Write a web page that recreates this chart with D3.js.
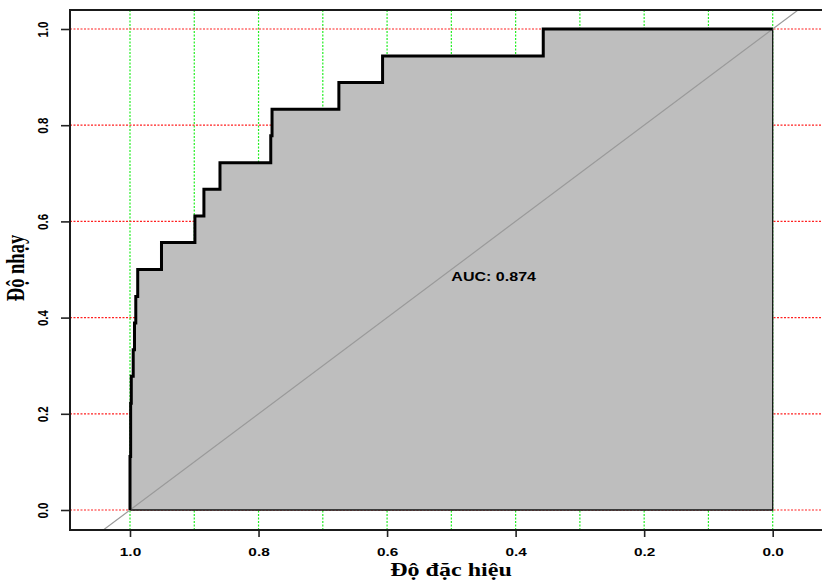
<!DOCTYPE html>
<html>
<head>
<meta charset="utf-8">
<script src="https://cdn.jsdelivr.net/npm/d3@7"></script>
<style>
  body { margin: 0; background: #fff; }
</style>
</head>
<body>
<div id="roc"></div>
<script>
// ROC curve corner points (specificity, sensitivity)
var specificity = [1.000, 1.000, 0.999, 0.999, 0.998, 0.998, 0.995, 0.995, 0.993, 0.993,
                   0.991, 0.991, 0.988, 0.988, 0.951, 0.951, 0.899, 0.899, 0.885, 0.885,
                   0.860, 0.860, 0.781, 0.781, 0.779, 0.779, 0.675, 0.675, 0.607, 0.607,
                   0.357, 0.357, 0.000];
var sensitivity = [0.000, 0.111, 0.111, 0.222, 0.222, 0.278, 0.278, 0.333, 0.333, 0.389,
                   0.389, 0.444, 0.444, 0.500, 0.500, 0.556, 0.556, 0.611, 0.611, 0.667,
                   0.667, 0.722, 0.722, 0.778, 0.778, 0.833, 0.833, 0.889, 0.889, 0.944,
                   0.944, 1.000, 1.000];

var xTicks = [1.0, 0.8, 0.6, 0.4, 0.2, 0.0];
var yTicks = [0.0, 0.2, 0.4, 0.6, 0.8, 1.0];
var xGrid = [1.0, 0.9, 0.8, 0.7, 0.6, 0.5, 0.4, 0.3, 0.2, 0.1, 0.0];
var aucLabel = "AUC: 0.874";
var xTitle = "Độ đặc hiệu";
var yTitle = "Độ nhạy";

// the picture is stretched sideways, so text gets the same stretch
var stretch = 1.336;
var width = 822, height = 581;
var box = {left: 70, top: 10, right: 833, bottom: 530};

var svg = d3.select("#roc")
  .append("svg")
    .attr("width", width)
    .attr("height", height)
    .style("display", "block");

var x = d3.scaleLinear().domain([1, 0]).range([130, 772.7]);
var y = d3.scaleLinear().domain([0, 1]).range([510, 29]);

svg.append("defs").append("clipPath")
    .attr("id", "plotclip")
  .append("rect")
    .attr("x", box.left).attr("y", box.top)
    .attr("width", box.right - box.left)
    .attr("height", box.bottom - box.top);

// grid: green verticals every 0.1, red horizontals every 0.2
svg.append("g").selectAll("line")
  .data(xGrid)
  .enter().append("line")
    .attr("x1", function(d) { return x(d); })
    .attr("x2", function(d) { return x(d); })
    .attr("y1", box.top)
    .attr("y2", box.bottom)
    .attr("stroke", "#22ee22")
    .attr("stroke-width", 1.2)
    .attr("stroke-dasharray", "2,1.5");

svg.append("g").selectAll("line")
  .data(yTicks)
  .enter().append("line")
    .attr("x1", box.left)
    .attr("x2", box.right)
    .attr("y1", function(d) { return y(d); })
    .attr("y2", function(d) { return y(d); })
    .attr("stroke", "#ff2020")
    .attr("stroke-width", 1.2)
    .attr("stroke-dasharray", "2,1.5");

var pts = specificity.map(function(s, i) { return [s, sensitivity[i]]; });

var line = d3.line()
  .x(function(d) { return x(d[0]); })
  .y(function(d) { return y(d[1]); });

// AUC polygon
var poly = pts.concat([[0, 0], [1, 0]]);
svg.append("path")
    .attr("d", line(poly) + "Z")
    .attr("fill", "#bebebe")
    .attr("stroke", "#111")
    .attr("stroke-width", 1.3);

// chance diagonal, clipped to the box
svg.append("path")
    .attr("clip-path", "url(#plotclip)")
    .attr("d", line([[1.2, -0.2], [-0.2, 1.2]]))
    .attr("stroke", "#9a9a9a")
    .attr("stroke-width", 1.2)
    .attr("fill", "none");

// ROC curve
svg.append("path")
    .attr("d", line(pts))
    .attr("fill", "none")
    .attr("stroke", "#000")
    .attr("stroke-width", 3);

// AUC text
svg.append("text")
    .attr("transform", "translate(" + x(0.5) + "," + y(0.5) + ") scale(" + stretch + ",1)")
    .attr("y", 11)
    .attr("font-family", "Liberation Sans, Arial, sans-serif")
    .attr("font-size", 12)
    .attr("font-weight", "bold")
    .attr("fill", "#000")
    .text(aucLabel);

// X axis
var xAxis = svg.append("g")
    .attr("transform", "translate(0," + box.bottom + ")")
    .call(d3.axisBottom(x).tickValues(xTicks).tickSize(7).tickFormat(d3.format(".1f")));
xAxis.select(".domain").remove();
xAxis.selectAll("line").attr("stroke", "#222").attr("stroke-width", 1.6);
xAxis.selectAll("text")
    .attr("y", 18)
    .attr("dy", "0.71em")
    .attr("transform", "scale(" + stretch + ",1)")
    .attr("font-family", "Liberation Sans, Arial, sans-serif")
    .attr("font-size", 11.5)
    .attr("font-weight", "bold")
    .attr("fill", "#000");

// Y axis
var yAxis = svg.append("g")
    .attr("transform", "translate(" + box.left + ",0)")
    .call(d3.axisLeft(y).tickValues(yTicks).tickSize(9).tickFormat(d3.format(".1f")));
yAxis.select(".domain").remove();
yAxis.selectAll("line").attr("stroke", "#222").attr("stroke-width", 1.6);
yAxis.selectAll("text")
    .attr("x", 0)
    .attr("y", -27 / stretch)
    .attr("dy", "0.35em")
    .attr("text-anchor", "middle")
    .attr("transform", "scale(" + stretch + ",1) rotate(-90)")
    .attr("font-family", "Liberation Sans, Arial, sans-serif")
    .attr("font-size", 11.5)
    .attr("font-weight", "bold")
    .attr("fill", "#000");

// plot box
svg.append("rect")
    .attr("x", box.left)
    .attr("y", box.top)
    .attr("width", box.right - box.left)
    .attr("height", box.bottom - box.top)
    .attr("fill", "none")
    .attr("stroke", "#1a1a1a")
    .attr("stroke-width", 2);

// axis titles
svg.append("text")
    .attr("transform", "translate(451,576) scale(1.3,1)")
    .attr("text-anchor", "middle")
    .attr("font-family", "Liberation Serif, Times New Roman, serif")
    .attr("font-size", 18.5)
    .attr("font-weight", "bold")
    .text(xTitle);

svg.append("text")
    .attr("transform", "translate(24,268) scale(" + stretch + ",1) rotate(-90)")
    .attr("text-anchor", "middle")
    .attr("font-family", "Liberation Serif, Times New Roman, serif")
    .attr("font-size", 18.5)
    .attr("font-weight", "bold")
    .text(yTitle);
</script>
</body>
</html>
